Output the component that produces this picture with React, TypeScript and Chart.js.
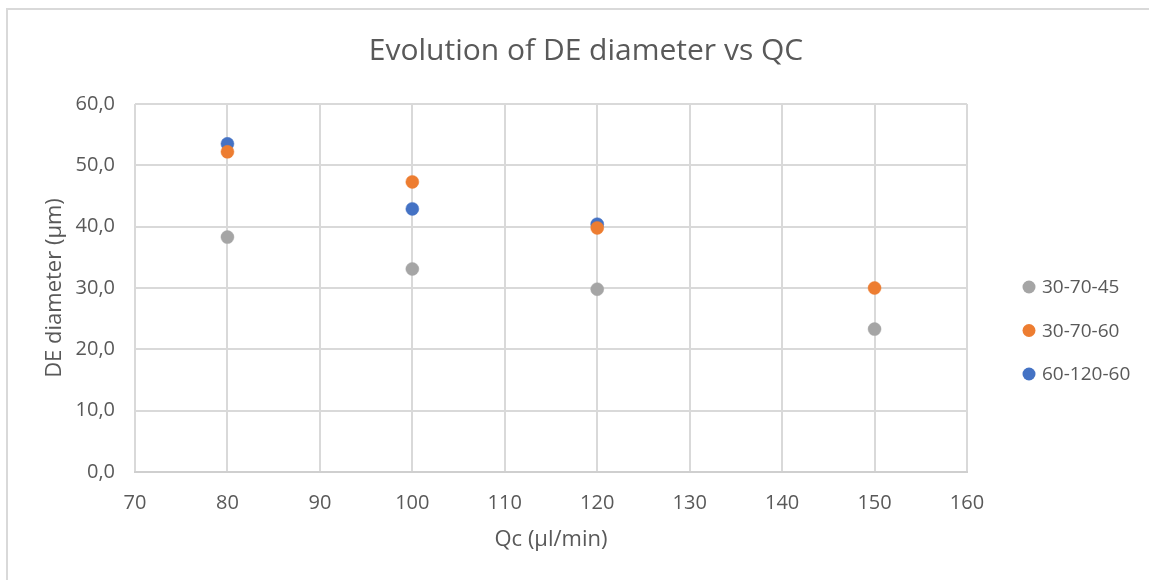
import React, { useEffect, useRef } from "react";
import { Chart, registerables } from "chart.js";

Chart.register(...registerables);

// ---- data ----
const seriesNames = ["30-70-45", "30-70-60", "60-120-60"];
const seriesColors = ["#A5A5A5", "#ED7D31", "#4472C4"];

const qc3070_45 = [80, 100, 120, 150];
const diam3070_45 = [38.3, 33.1, 29.8, 23.3];

const qc3070_60 = [80, 100, 120, 150];
const diam3070_60 = [52.2, 47.3, 39.8, 30.0];

const qc60120_60 = [80, 100, 120];
const diam60120_60 = [53.5, 42.9, 40.4];

const xTickValues = [70, 80, 90, 100, 110, 120, 130, 140, 150, 160];
const yTickLabels = ["0,0", "10,0", "20,0", "30,0", "40,0", "50,0", "60,0"];

const titleText = "Evolution of DE diameter vs QC";
const xTitle = "Qc (µl/min)";
const yTitle = "DE diameter (µm)";

const FONT = "'Open Sans', 'DejaVu Sans', sans-serif";
const TEXT = "#595959";

const toPoints = (xs: number[], ys: number[]) => xs.map((x, i) => ({ x, y: ys[i] }));

const legendPlugin = {
  id: "excelLegend",
  afterDraw(chart: any) {
    const ctx = chart.ctx;
    const area = chart.chartArea;
    const cx = area.right + 62;
    const midY = (area.top + area.bottom) / 2 + 42.5;
    const gap = 43.5;
    const n = chart.data.datasets.length;
    ctx.save();
    ctx.font = `19px ${FONT}`;
    ctx.textBaseline = "middle";
    ctx.textAlign = "left";
    chart.data.datasets.forEach((ds: any, i: number) => {
      const y = midY + (i - (n - 1) / 2) * gap;
      ctx.beginPath();
      ctx.fillStyle = ds.backgroundColor;
      ctx.arc(cx, y, 6.5, 0, Math.PI * 2);
      ctx.fill();
      ctx.fillStyle = TEXT;
      ctx.fillText(ds.label, cx + 13, y + 1);
    });
    ctx.restore();
  },
};

export default function App() {
  const canvasRef = useRef<HTMLCanvasElement | null>(null);

  useEffect(() => {
    if (!canvasRef.current) return;
    const seriesX = [qc3070_45, qc3070_60, qc60120_60];
    const seriesY = [diam3070_45, diam3070_60, diam60120_60];
    const chart = new Chart(canvasRef.current, {
      type: "scatter",
      data: {
        datasets: seriesNames.map((name, i) => ({
          label: name,
          data: toPoints(seriesX[i], seriesY[i]),
          backgroundColor: seriesColors[i],
          borderColor: seriesColors[i],
          borderWidth: 0.5,
          pointRadius: 6.5,
          pointHoverRadius: 6.5,
        })),
      },
      options: {
        animation: false,
        responsive: false,
        devicePixelRatio: 1,
        layout: { padding: { left: 8, top: 10, right: 0, bottom: 0 } },
        plugins: {
          legend: { display: false },
          tooltip: { enabled: false },
          title: {
            display: true,
            text: titleText,
            color: TEXT,
            font: { family: FONT, size: 30, weight: "normal" as any, lineHeight: 1.2 },
            padding: { top: 23, bottom: 35 },
          },
        },
        scales: {
          x: {
            type: "linear",
            min: 70,
            max: 160,
            afterFit: (s: any) => {
              s.height = 108;
            },
            afterBuildTicks: (s: any) => {
              s.ticks = xTickValues.map((v) => ({ value: v }));
            },
            ticks: {
              color: TEXT,
              font: { family: FONT, size: 20 },
              padding: 19.5,
              maxRotation: 0,
              autoSkip: false,
            },
            grid: { color: "#d9d9d9", lineWidth: 2, drawTicks: false },
            border: { display: true, color: "#cfcfcf", width: 2 },
            title: {
              display: true,
              text: xTitle,
              color: TEXT,
              font: { family: FONT, size: 22, lineHeight: 1.2 },
              padding: { top: 0, bottom: 26.8 },
            },
          },
          y: {
            type: "linear",
            min: 0,
            max: 60,
            afterFit: (s: any) => {
              s.width = 127;
            },
            ticks: {
              stepSize: 10,
              color: TEXT,
              font: { family: FONT, size: 20 },
              padding: 20,
              callback: (_v: any, i: number) => yTickLabels[i],
            },
            grid: { color: "#d9d9d9", lineWidth: 2, drawTicks: false },
            border: { display: false },
            title: {
              display: true,
              text: yTitle,
              color: TEXT,
              font: { family: FONT, size: 22, lineHeight: 1.2 },
              padding: { top: 33.8, bottom: 0 },
            },
          },
          yRight: {
            type: "linear",
            position: "right",
            display: true,
            min: 0,
            max: 60,
            afterFit: (s: any) => {
              s.width = 197;
            },
            ticks: { display: false },
            grid: { display: false, drawTicks: false },
            border: { display: false },
          },
        },
      } as any,
      plugins: [legendPlugin],
    });
    return () => chart.destroy();
  }, []);

  return (
    <div
      style={{
        position: "fixed",
        left: 0,
        top: 0,
        width: 1149,
        height: 580,
        overflow: "hidden",
        background: "#ffffff",
      }}
    >
      <div
        style={{
          position: "absolute",
          left: 6,
          top: 8,
          width: 1200,
          height: 700,
          borderTop: "2px solid #d9d9d9",
          borderLeft: "2px solid #d9d9d9",
        }}
      />
      <canvas
        ref={canvasRef}
        width={1164}
        height={580}
        style={{ position: "absolute", left: 0, top: 0, width: 1164, height: 580 }}
      />
    </div>
  );
}
